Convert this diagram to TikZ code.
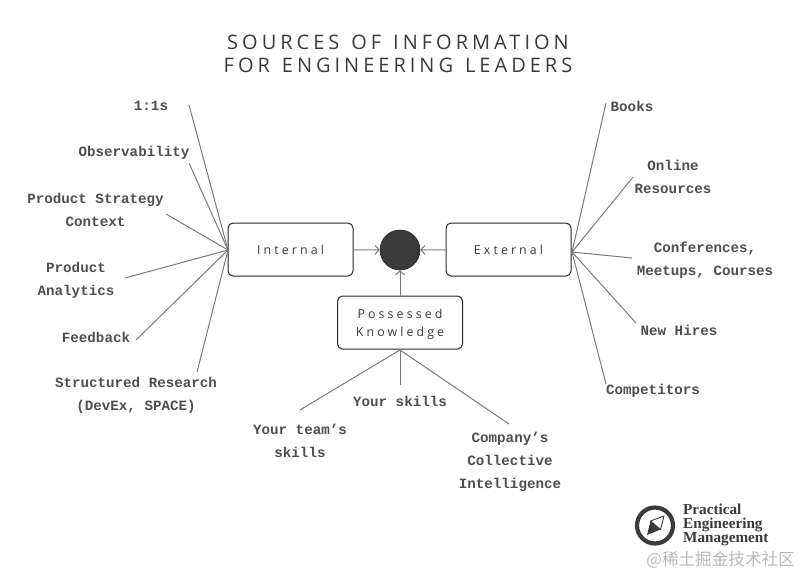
\documentclass[tikz,border=0pt]{standalone}
\usepackage{fontspec}
\usetikzlibrary{arrows.meta}
\setmainfont{Open Sans}
\setmonofont{Liberation Mono}
\newfontfamily\titlefont[LetterSpace=20,WordSpace=1.3]{Open Sans}
\newfontfamily\boxfont[LetterSpace=25]{Open Sans}
\newfontfamily\logofont{Liberation Serif}
\newfontfamily\cjkfont{Noto Sans CJK SC}
\definecolor{inkdark}{HTML}{3A3A3A}
\definecolor{linegray}{HTML}{7A7A7A}
\tikzset{
	src/.style={font=\ttfamily\bfseries\fontsize{14.2}{23}\selectfont,text=inkdark!90,align=center,inner sep=0pt},
	hubbox/.style={draw=black!85,line width=1pt,rounded corners=5pt,minimum width=125pt,minimum height=53pt,align=center,text=inkdark,inner sep=0pt,font=\boxfont\fontsize{12.4}{18}\selectfont},
	spoke/.style={draw=linegray,line width=1pt},
	feed/.style={draw=linegray,line width=1pt,-{Straight Barb[length=4pt,width=9pt]}}
}
\begin{document}
\begin{tikzpicture}[x=1pt,y=-1pt]
		\useasboundingbox (0,0) rectangle (800,576);
		\node[font=\titlefont\fontsize{20}{23}\selectfont,text=inkdark,align=center,inner sep=0pt] (title) at (398,53.5) {SOURCES OF INFORMATION\\FOR ENGINEERING LEADERS};
		
		\node[hubbox] (internal) at (290.5,249.5) {Internal};
		\node[hubbox] (external) at (508.5,249.5) {External};
		\node[hubbox] (possessed) at (400,322.5) {\rule{0pt}{13.4pt}Possessed\\Knowledge};
		\node[circle,fill=inkdark,draw=black!85,line width=.6pt,minimum size=40pt,inner sep=0pt] (sink) at (400,250) {};
		\path[feed] (internal) edge (sink);
		\path[feed] (external) edge (sink);
		\path[feed] (possessed) edge (sink);
		
		\coordinate (inhub) at (228,250);
		\coordinate (exhub) at (572,252);
		\coordinate (pohub) at (400,350);
		
		\node[src] (oneone) at (151,106) {1:1s};
		\node[src] (observ) at (134,153) {Observability};
		\node[src] (strategy) at (95.5,209.5) {Product Strategy\\Context};
		\node[src] (analytics) at (76,280.5) {Product\\Analytics};
		\node[src] (feedback) at (96,337) {Feedback};
		\node[src] (research) at (136,395.5) {Structured Research\\(DevEx, SPACE)};
		\coordinate (oneoneend) at (189,105);
		\coordinate (observend) at (189,163);
		\coordinate (strategyend) at (166,214);
		\coordinate (analyticsend) at (125,278);
		\coordinate (feedbackend) at (136,340);
		\coordinate (researchend) at (197,372);
		\path[spoke] (inhub) edge (oneoneend) edge (observend) edge (strategyend) edge (analyticsend) edge (feedbackend) edge (researchend);
		
		\node[src] (books) at (632,106) {Books};
		\node[src] (online) at (673,176.5) {Online\\Resources};
		\node[src] (confs) at (705,260.5) {Conferences,\\Meetups, Courses};
		\node[src] (hires) at (679,330) {New Hires};
		\node[src] (rivals) at (653,391) {Competitors};
		\coordinate (booksend) at (606,103);
		\coordinate (onlineend) at (633,177);
		\coordinate (confsend) at (632,258);
		\coordinate (hiresend) at (636,323);
		\coordinate (rivalsend) at (606,384);
		\path[spoke] (exhub) edge (booksend) edge (onlineend) edge (confsend) edge (hiresend) edge (rivalsend);
		
		\node[src] (team) at (300,440.5) {Your team’s\\skills};
		\node[src] (skills) at (400,401) {Your skills};
		\node[src] (company) at (510,462) {Company’s\\Collective\\Intelligence};
		\coordinate (teamend) at (300,410);
		\coordinate (skillsend) at (400,385);
		\coordinate (companyend) at (509,424);
		\path[spoke] (pohub) edge (teamend) edge (skillsend) edge (companyend);
		
		\draw[inkdark,line width=4.2pt] (655,525.5) circle (18);
		\fill[inkdark] (647,535) -- (650.5,521) -- (660.5,529.5) -- cycle;
		\draw[inkdark,fill=white,line width=.9pt,line join=round] (664,516) -- (650.5,521) -- (660.5,529.5) -- cycle;
		\node[anchor=west,align=left,inner sep=0pt,text=inkdark,font=\logofont\bfseries\fontsize{15.2}{14.2}\selectfont] (logo) at (683,525) {Practical\\Engineering\\Management};
		\node[anchor=east,inner sep=0pt,text=black!28,font=\cjkfont\fontsize{16.6}{20}\selectfont] (mark) at (795,560) {@稀土掘金技术社区};
		\end{tikzpicture}
\end{document}
